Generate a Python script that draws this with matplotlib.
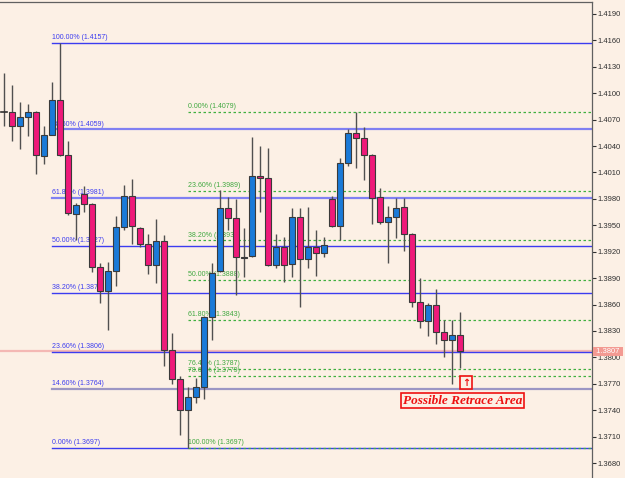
import numpy as np
import matplotlib.pyplot as plt
from matplotlib.transforms import blended_transform_factory

# daily candles
opens = [1.4079, 1.4079, 1.4063, 1.4073, 1.4079, 1.4029, 1.4053, 1.4092, 1.4030, 1.3963,
         1.3986, 1.3974, 1.3903, 1.3875, 1.3898, 1.3948, 1.3983, 1.3947, 1.3929, 1.3905,
         1.3932, 1.3808, 1.3775, 1.3740, 1.3755, 1.3766, 1.3846, 1.3898, 1.3970, 1.3958,
         1.3913, 1.3915, 1.4006, 1.4004, 1.3905, 1.3925, 1.3906, 1.3959, 1.3912, 1.3925,
         1.3918, 1.3980, 1.3949, 1.4021, 1.4055, 1.4049, 1.4030, 1.3982, 1.3954, 1.3959,
         1.3971, 1.3940, 1.3863, 1.3841, 1.3859, 1.3829, 1.3820, 1.3825]
highs = [1.4123, 1.4109, 1.4090, 1.4088, 1.4080, 1.4063, 1.4113, 1.4157, 1.4046, 1.3975,
         1.3995, 1.3975, 1.3907, 1.3908, 1.3961, 1.3996, 1.4003, 1.3948, 1.3940, 1.3957,
         1.3939, 1.3828, 1.3779, 1.3766, 1.3777, 1.3847, 1.3907, 1.3990, 1.3982, 1.3980,
         1.3947, 1.4050, 1.4040, 1.4038, 1.3940, 1.3937, 1.3970, 1.3970, 1.3971, 1.3945,
         1.3937, 1.3983, 1.4026, 1.4059, 1.4079, 1.4062, 1.4031, 1.3992, 1.3972, 1.3981,
         1.3981, 1.3941, 1.3890, 1.3862, 1.3878, 1.3842, 1.3842, 1.3852]
lows = [1.4063, 1.4046, 1.4037, 1.4051, 1.4008, 1.4020, 1.4052, 1.4029, 1.3962, 1.3933,
        1.3965, 1.3897, 1.3862, 1.3831, 1.3881, 1.3945, 1.3929, 1.3925, 1.3895, 1.3884,
        1.3790, 1.3770, 1.3712, 1.3697, 1.3748, 1.3753, 1.3820, 1.3897, 1.3945, 1.3871,
        1.3891, 1.3914, 1.3965, 1.3904, 1.3902, 1.3886, 1.3891, 1.3857, 1.3902, 1.3892,
        1.3914, 1.3948, 1.3933, 1.4017, 1.4015, 1.4001, 1.3951, 1.3951, 1.3907, 1.3936,
        1.3921, 1.3857, 1.3833, 1.3824, 1.3815, 1.3800, 1.3770, 1.3788]
closes = [1.4079, 1.4063, 1.4073, 1.4079, 1.4030, 1.4053, 1.4092, 1.4030, 1.3964, 1.3973,
          1.3974, 1.3903, 1.3875, 1.3898, 1.3948, 1.3983, 1.3949, 1.3929, 1.3905, 1.3932,
          1.3808, 1.3775, 1.3740, 1.3755, 1.3766, 1.3846, 1.3896, 1.3970, 1.3958, 1.3914,
          1.3914, 1.4006, 1.4004, 1.3905, 1.3925, 1.3905, 1.3959, 1.3912, 1.3925, 1.3918,
          1.3928, 1.3949, 1.4021, 1.4055, 1.4049, 1.4030, 1.3981, 1.3954, 1.3959, 1.3970,
          1.3940, 1.3863, 1.3841, 1.3859, 1.3829, 1.3820, 1.3825, 1.3807]

# fibonacci sets (blue: big swing, green: retrace of the last leg)
blue_pct = ['100.00%', '78.60%', '61.80%', '50.00%', '38.20%', '23.60%', '14.60%', '0.00%']
blue_lvl = [1.4157, 1.4059, 1.3981, 1.3927, 1.3873, 1.3806, 1.3764, 1.3697]
green_pct = ['0.00%', '23.60%', '38.20%', '50.00%', '61.80%', '76.40%', '78.60%', '100.00%']
green_lvl = [1.4079, 1.3989, 1.3933, 1.3888, 1.3843, 1.3787, 1.3779, 1.3697]
blue_start = 6
green_start = 23

bid = 1.3807
yticks = np.arange(1.3680, 1.4191, 0.003)

bg = '#fcf0e5'
bull = '#1a7ad8'
bear = '#ee1a7a'
small = 'Liberation Sans'

fig = plt.figure(figsize=(6.25, 4.78), dpi=100, facecolor=bg)
ax = fig.add_axes([0, 0, 592 / 625, 476 / 478], facecolor=bg)
n = len(opens)
x = np.arange(n)
ax.set_xlim(-0.5, 73.5)
ax.set_ylim(1.3663, 1.42036)

# bid line
ax.axhline(bid, color='#f4b8b4', lw=1.6, zorder=1)

# blue fib lines
xmax = 73.5
for p, lv in zip(blue_pct, blue_lvl):
    if p in ('78.60%', '61.80%'):
        c, lw = '#8080f2', 1.6
    elif p == '14.60%':
        c, lw = '#9c96c4', 1.6
    else:
        c, lw = '#3c3cf0', 1.0
    ax.plot([blue_start, xmax], [lv, lv], color=c, lw=lw, zorder=1.5)
    ax.annotate(f'{p} ({lv:.4f})', xy=(blue_start, lv), xytext=(0, 1.2),
                textcoords='offset points', va='bottom', ha='left',
                color='#3c3cf0', fontsize=5.0, family=small, zorder=1.6)

# green fib lines
for p, lv in zip(green_pct, green_lvl):
    ax.plot([green_start, xmax], [lv, lv], color='#3fb03f', lw=0.9,
            ls=(0, (2, 2)), zorder=1.7)
    ax.annotate(f'{p} ({lv:.4f})', xy=(green_start, lv), xytext=(0, 1.2),
                textcoords='offset points', va='bottom', ha='left',
                color='#3fa83f', fontsize=5.0, family=small, zorder=1.6)

# candles
ax.vlines(x, lows, highs, color='#505050', lw=1.0, zorder=3)
o = np.array(opens)
c = np.array(closes)
for i in range(n):
    if c[i] == o[i]:
        ax.plot([i - 0.35, i + 0.35], [o[i], o[i]], color='#303030', lw=1.2, zorder=4)
        continue
    col = bull if c[i] > o[i] else bear
    h = max(abs(c[i] - o[i]), 0.00008)
    ax.bar(i, h, bottom=min(o[i], c[i]), width=0.68, color=col,
           edgecolor='#3a3a3a', linewidth=0.8, zorder=4)

# annotations
ax.text(57.3, 1.3751, 'Possible Retrace Area', color='#ee1111', fontsize=9.5,
        family='Liberation Serif', fontweight='bold', fontstyle='italic',
        ha='center', va='center', zorder=6,
        bbox=dict(boxstyle='square,pad=0.12', fc=bg, ec='#ee1111', lw=1.2))
ax.text(57.75, 1.3771, '\u2191', color='#ee1111', fontsize=7, fontweight='bold',
        ha='center', va='center', zorder=6,
        bbox=dict(boxstyle='square,pad=0.15', fc=bg, ec='#ee1111', lw=1.2))

# axes styling
ax.yaxis.tick_right()
ax.set_yticks(yticks)
ax.set_yticklabels([f'{v:.4f}' for v in yticks], fontsize=5.5, family=small,
                   color='#303030')
ax.tick_params(axis='y', length=3, width=0.8, pad=1, colors='#303030')
ax.set_xticks([])
for s in ('left', 'bottom'):
    ax.spines[s].set_visible(False)
for s in ('top', 'right'):
    ax.spines[s].set_color('#606060')
    ax.spines[s].set_linewidth(0.9)

tr = blended_transform_factory(ax.transAxes, ax.transData)
ax.text(1.004, bid, ' 1.3807 ', transform=tr, fontsize=5.5, family=small,
        color='white', ha='left', va='center', zorder=10, clip_on=False,
        bbox=dict(boxstyle='square,pad=0.15', fc='#f39a92', ec='none'))

fig.savefig('out.png', dpi=100, facecolor=bg)
